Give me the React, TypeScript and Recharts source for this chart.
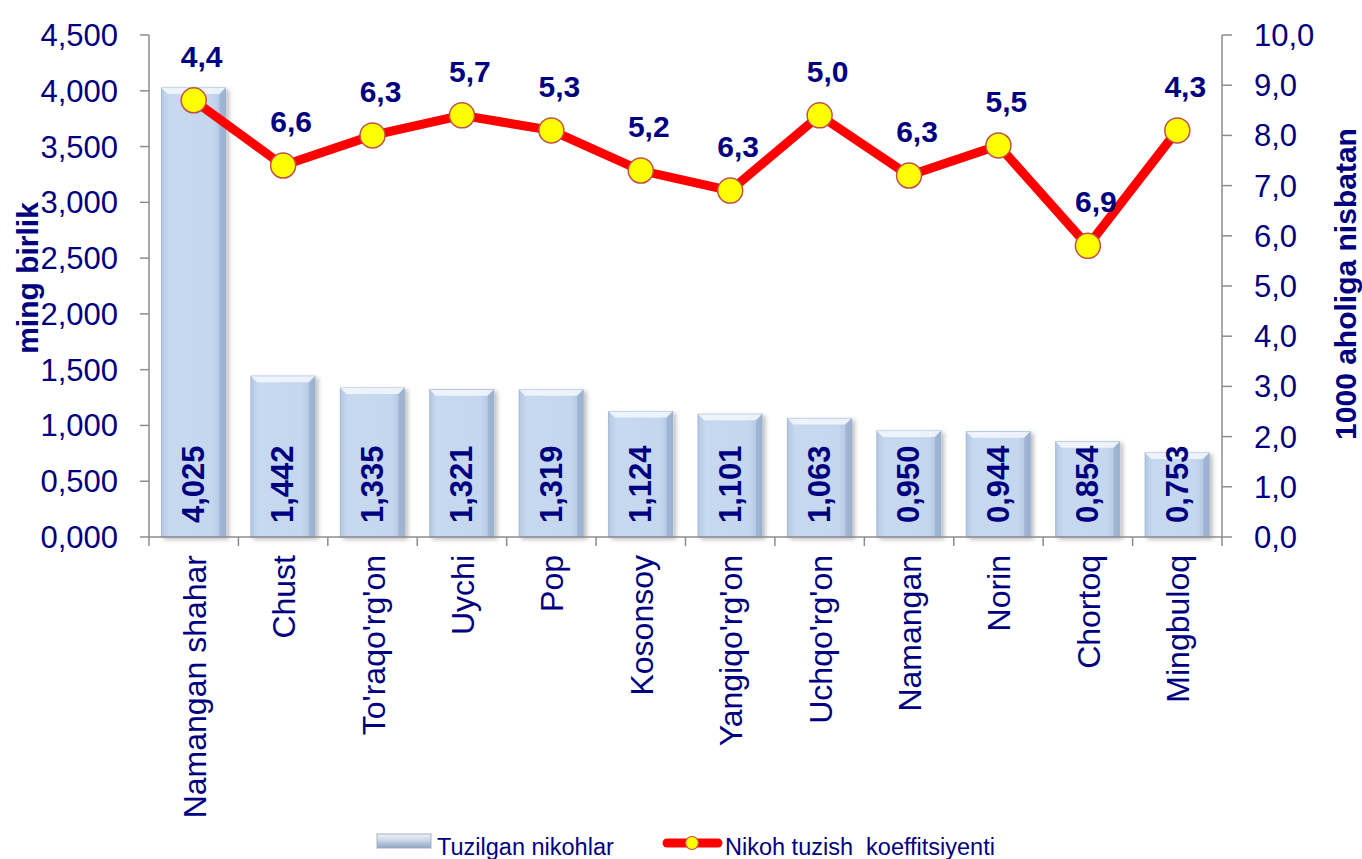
import { ComposedChart, Bar, Line, XAxis, YAxis, LabelList, Legend } from "recharts";

const categories = [
  "Namangan shahar",
  "Chust",
  "To'raqo'rg'on",
  "Uychi",
  "Pop",
  "Kosonsoy",
  "Yangiqo'rg'on",
  "Uchqo'rg'on",
  "Namangan",
  "Norin",
  "Chortoq",
  "Mingbuloq",
];
// Tuzilgan nikohlar, ming birlik
const marriages = [4.025, 1.442, 1.335, 1.321, 1.319, 1.124, 1.101, 1.063, 0.95, 0.944, 0.854, 0.753];
// Nikoh tuzish koeffitsiyenti (plotted position)
const rate = [8.7, 7.4, 8.0, 8.4, 8.1, 7.3, 6.9, 8.4, 7.2, 7.8, 5.8, 8.1];
// labels shown above the line points
const rateLabels = [4.4, 6.6, 6.3, 5.7, 5.3, 5.2, 6.3, 5.0, 6.3, 5.5, 6.9, 4.3];
const leftTicks = [0, 0.5, 1, 1.5, 2, 2.5, 3, 3.5, 4, 4.5];
const rightTicks = [0, 1, 2, 3, 4, 5, 6, 7, 8, 9, 10];

const data = categories.map((name, i) => ({
  name,
  marriages: marriages[i],
  rate: rate[i],
  rateLabel: rateLabels[i],
}));

const W = 1362;
const H = 859;
const LEFT_W = 149;
const RIGHT_W = 140;
const HALF_BAND = (W - LEFT_W - RIGHT_W) / categories.length / 2;
const NAVY = "#000080";
const FONT = "'Liberation Sans', Arial, sans-serif";
const AXIS = "#8c8c8c";

const comma = (v: number, d: number) => v.toFixed(d).replace(".", ",");

function CategoryTick(props: any) {
  const { x, y, payload, index } = props;
  const axisY = y - 18;
  return (
    <g>
      {index === 0 && (
        <line x1={x - HALF_BAND} x2={x - HALF_BAND} y1={axisY} y2={axisY + 9} stroke={AXIS} strokeWidth={1.5} />
      )}
      <line x1={x + HALF_BAND} x2={x + HALF_BAND} y1={axisY} y2={axisY + 9} stroke={AXIS} strokeWidth={1.5} />
      <text
        x={0}
        y={0}
        transform={`translate(${x + 1},${y}) rotate(-90)`}
        textAnchor="end"
        dominantBaseline="central"
        fill={NAVY}
        fontSize={32}
        fontFamily={FONT}
      >
        {payload.value}
      </text>
    </g>
  );
}

function BarShape(props: any) {
  const { x, y, width, height } = props;
  if (!height || height <= 0) return null;
  const b = 6;
  return (
    <g filter="url(#barShadow)">
      <rect x={x} y={y} width={width} height={height} fill="url(#barGrad)" stroke="#a3b8d4" strokeWidth={1} />
      <polygon
        points={`${x},${y} ${x + width},${y} ${x + width - b},${y + b} ${x + b},${y + b}`}
        fill="#f4f8fd"
        opacity={0.85}
      />
      <polygon
        points={`${x + width},${y} ${x + width},${y + height} ${x + width - b},${y + height} ${x + width - b},${y + b}`}
        fill="#8fa6c6"
        opacity={0.55}
      />
    </g>
  );
}

function BarValue(props: any) {
  const { x, y, width, height, value } = props;
  const cx = x + width / 2;
  const by = y + height - 14;
  return (
    <text
      transform={`translate(${cx},${by}) rotate(-90)`}
      textAnchor="start"
      dominantBaseline="central"
      fill={NAVY}
      fontSize={31}
      fontWeight="bold"
      fontFamily={FONT}
    >
      {comma(value, 3)}
    </text>
  );
}

function RateValue(props: any) {
  const { x, y, value } = props;
  return (
    <text
      x={x + 8}
      y={y - 44}
      textAnchor="middle"
      dominantBaseline="central"
      fill={NAVY}
      fontSize={30}
      fontWeight="bold"
      fontFamily={FONT}
    >
      {comma(value, 1)}
    </text>
  );
}

function LegendBox() {
  return (
    <svg width={W} height={33} style={{ display: "block" }}>
      <defs>
        <linearGradient id="legGrad" x1="0" y1="0" x2="0" y2="1">
          <stop offset="0%" stopColor="#eef3f9" />
          <stop offset="45%" stopColor="#cad8ea" />
          <stop offset="100%" stopColor="#8ca2bd" />
        </linearGradient>
      </defs>
      <rect x={377} y={8} width={54} height={14} fill="url(#legGrad)" stroke="#a0b1c7" strokeWidth={1} />
      <text x={437} y={29} fill={NAVY} fontSize={23.5} fontFamily={FONT}>
        Tuzilgan nikohlar
      </text>
      <line x1={667} x2={718} y1={17} y2={17} stroke="#ff0000" strokeWidth={9} strokeLinecap="round" />
      <circle cx={692} cy={17} r={6.5} fill="#ffff00" stroke="#c0504d" strokeWidth={1.2} />
      <text x={725} y={29} fill={NAVY} fontSize={23.5} fontFamily={FONT} style={{ whiteSpace: "pre" }}>
        {"Nikoh tuzish  koeffitsiyenti"}
      </text>
    </svg>
  );
}

export default function App() {
  return (
    <div style={{ position: "absolute", left: 0, top: 0, width: W, height: H, background: "#fff" }}>
      <ComposedChart
        width={W}
        height={H}
        data={data}
        margin={{ top: 35, right: 0, bottom: 0, left: 0 }}
        barCategoryGap="14%"
      >
        <defs>
          <linearGradient id="barGrad" x1="0" y1="0" x2="1" y2="0">
            <stop offset="0%" stopColor="#b3c8e3" />
            <stop offset="12%" stopColor="#c7d9ef" />
            <stop offset="80%" stopColor="#c5d7ee" />
            <stop offset="100%" stopColor="#a9bfdc" />
          </linearGradient>
          <filter id="barShadow" x="-10%" y="-5%" width="130%" height="115%">
            <feDropShadow dx={3} dy={2} stdDeviation={2} floodColor="#000" floodOpacity={0.25} />
          </filter>
        </defs>
        <XAxis
          dataKey="name"
          height={322}
          interval={0}
          tickLine={false}
          tickSize={8}
          tickMargin={10}
          axisLine={{ stroke: AXIS, strokeWidth: 1.5 }}
          tick={<CategoryTick />}
        />
        <YAxis
          yAxisId="left"
          width={LEFT_W}
          domain={[0, 4.5]}
          ticks={leftTicks}
          tickFormatter={(v: number) => comma(v, 3)}
          tickSize={9}
          tickMargin={22}
          axisLine={{ stroke: AXIS, strokeWidth: 1.5 }}
          tickLine={{ stroke: AXIS, strokeWidth: 1.5 }}
          tick={{ fill: NAVY, fontSize: 31, fontFamily: FONT }}
          label={{
            content: () => (
              <text
                transform="translate(27,278) rotate(-90)"
                textAnchor="middle"
                dominantBaseline="central"
                fill={NAVY}
                fontSize={30}
                fontWeight="bold"
                fontFamily={FONT}
              >
                ming birlik
              </text>
            ),
          }}
        />
        <YAxis
          yAxisId="right"
          orientation="right"
          width={RIGHT_W}
          domain={[0, 10]}
          ticks={rightTicks}
          tickFormatter={(v: number) => comma(v, 1)}
          tickSize={10}
          tickMargin={22}
          axisLine={{ stroke: AXIS, strokeWidth: 1.5 }}
          tickLine={{ stroke: AXIS, strokeWidth: 1.5 }}
          tick={{ fill: NAVY, fontSize: 31, fontFamily: FONT }}
          label={{
            content: () => (
              <text
                transform="translate(1345,284) rotate(-90)"
                textAnchor="middle"
                dominantBaseline="central"
                fill={NAVY}
                fontSize={30}
                fontWeight="bold"
                fontFamily={FONT}
              >
                1000 aholiga nisbatan
              </text>
            ),
          }}
        />
        <Bar yAxisId="left" dataKey="marriages" name="Tuzilgan nikohlar" shape={<BarShape />} isAnimationActive={false}>
          <LabelList dataKey="marriages" content={<BarValue />} />
        </Bar>
        <Line
          yAxisId="right"
          dataKey="rate"
          name="Nikoh tuzish koeffitsiyenti"
          stroke="#ff0000"
          strokeWidth={9}
          dot={{ r: 12.5, fill: "#ffff00", stroke: "#c0504d", strokeWidth: 1.5 }}
          activeDot={false}
          isAnimationActive={false}
        >
          <LabelList dataKey="rateLabel" content={<RateValue />} />
        </Line>
        <Legend
          layout="horizontal"
          verticalAlign="middle"
          align="center"
          wrapperStyle={{ top: 826, left: 0, width: W, height: 33 }}
          content={() => <LegendBox />}
        />
      </ComposedChart>
    </div>
  );
}
